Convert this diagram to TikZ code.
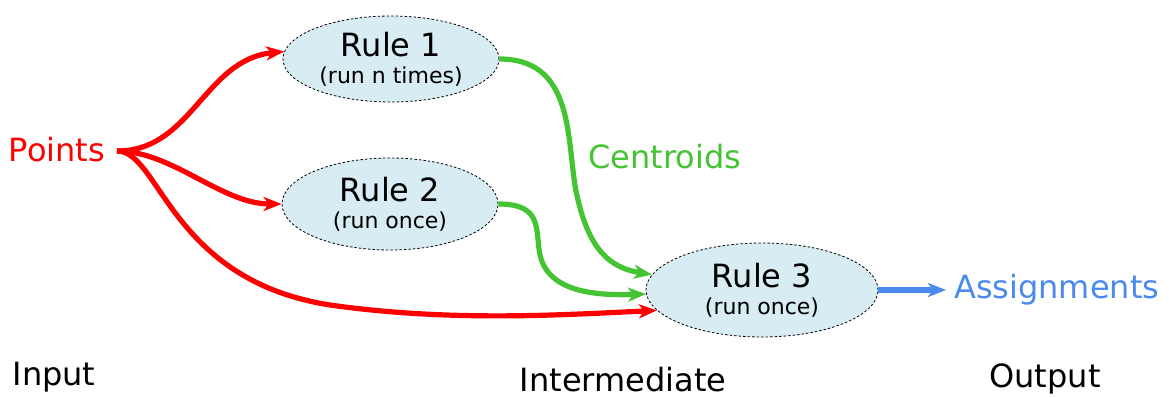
\documentclass[tikz,border=0pt]{standalone}
\usepackage{fontspec}
\setmainfont{DejaVu Sans}
\usetikzlibrary{shapes.geometric,arrows.meta}
\definecolor{ptred}{HTML}{FF0000}
\definecolor{cgreen}{HTML}{44C433}
\definecolor{asblue}{HTML}{4A8AF0}
\definecolor{rulefill}{HTML}{D8ECF3}
\newcommand{\bigtxt}{\fontsize{32}{27}\selectfont}
\newcommand{\smalltxt}{\fontsize{22}{27}\selectfont}
\tikzset{
  rulebox/.style={ellipse, draw=black, line width=0.8pt, dash pattern=on 2.5pt off 2pt,
    fill=rulefill, inner sep=0pt, align=center, font=\bigtxt},
  flow/.style={line width=5.2pt, -{Stealth[length=18pt,width=14pt,inset=5pt]}},
  label/.style={inner sep=0pt, font=\bigtxt},
}
\begin{document}
\begin{tikzpicture}[x=1pt,y=-1pt]
  \useasboundingbox (0,0) rectangle (1169,398);

  % rule ellipses
  \node[rulebox, minimum width=216pt, minimum height=86pt] (r1) at (391,59)
    {Rule 1\\\smalltxt (run n times)};
  \node[rulebox, minimum width=216pt, minimum height=92pt] (r2) at (390,204)
    {Rule 2\\\smalltxt (run once)};
  \node[rulebox, minimum width=232pt, minimum height=94pt] (r3) at (762,290)
    {Rule 3\\\smalltxt (run once)};

  % input / output labels
  \node[label, text=ptred] (pts) at (57,150) {Points};
  \node[label, text=asblue, anchor=west] (asg) at (954,290) {Assignments};
  \node[label, text=cgreen] (cen) at (665,157) {Centroids};

  % column captions
  \node[label] (inp) at (54,377) {Input};
  \node[label] (mid) at (623,380) {Intermediate};
  \node[label] (outp) at (1045,379) {Output};

  % waypoints of the longer curves
  \coordinate (fork) at (117,151);
  \coordinate (lowred) at (330,305);
  \coordinate (midgreen) at (578,200);
  \coordinate (lowgreen) at (540,255);

  % points feed every rule
  \draw[flow, draw=ptred, color=ptred] (fork) .. controls +(75,0) and +(-80,8) .. (r1.176);
  \draw[flow, draw=ptred, color=ptred] (fork) .. controls +(55,0) and +(-60,0) .. (r2.west);
  \draw[flow, draw=ptred, color=ptred] (fork) .. controls +(43,0) and (170,280) .. (lowred)
    .. controls (450,322) and (560,315) .. (r3.191);

  % centroids go to rule 3
  \draw[flow, draw=cgreen, color=cgreen] (r1.east) .. controls +(80,0) and (565,150) .. (midgreen)
    .. controls (590,250) and (610,268) .. (r3.172);
  \draw[flow, draw=cgreen, color=cgreen] (r2.east) .. controls +(45,0) and (535,230) .. (lowgreen)
    .. controls (548,290) and (590,296) .. (r3.182);

  % assignments out
  \draw[flow, draw=asblue, color=asblue] (r3.east) -- ([xshift=-8pt]asg.west);
\end{tikzpicture}
\end{document}
